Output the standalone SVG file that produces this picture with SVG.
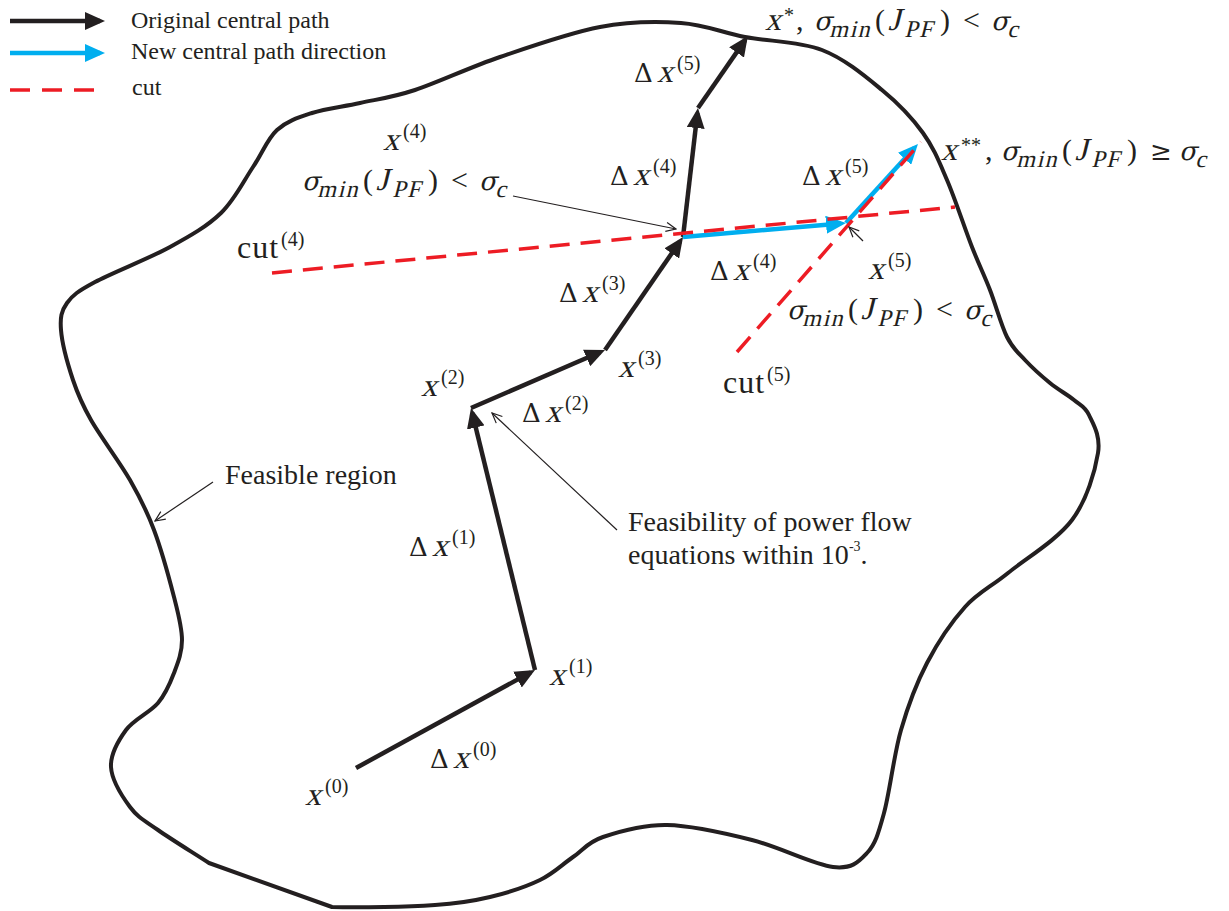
<svg xmlns="http://www.w3.org/2000/svg" width="1229" height="911" viewBox="0 0 1229 911">
<style>
text{font-family:"Liberation Serif","Times New Roman",serif;fill:#231f20}
.lg{font-size:24px}
.ann{font-size:28px}
.m{font-size:30px}
.it{font-size:32px}
.gr{font-family:"DejaVu Serif",serif;font-size:26px}
.g{font-family:"DejaVu Serif",serif;font-size:26px}
.ct{font-size:32px;letter-spacing:1px}
.sp{font-size:20px}
.sb{font-size:24px;letter-spacing:1.5px}
.blk{stroke:#231f20;stroke-width:4.5;fill:none}
.blu{stroke:#00aeef;stroke-width:4.5;fill:none}
.cut{stroke:#ed1c24;stroke-width:3.5;stroke-dasharray:20 11;fill:none}
.ldr{stroke:#231f20;stroke-width:1.2;fill:none}
.outline{stroke:#231f20;stroke-width:4;fill:none;stroke-linejoin:round}
</style>
<defs>
<marker id="ab" markerUnits="userSpaceOnUse" viewBox="0 0 20 18" refX="15" refY="9" markerWidth="20" markerHeight="18" orient="auto"><path d="M0,0 L20,9 L0,18 z" fill="#231f20"/></marker>
<marker id="abl" markerUnits="userSpaceOnUse" viewBox="0 0 20 18" refX="15" refY="9" markerWidth="20" markerHeight="18" orient="auto"><path d="M0,0 L20,9 L0,18 z" fill="#00aeef"/></marker>
<marker id="ao" markerUnits="userSpaceOnUse" viewBox="0 0 12 12" refX="11" refY="6" markerWidth="12" markerHeight="12" orient="auto"><path d="M1,1.5 L11,6 L1,10.5" fill="none" stroke="#231f20" stroke-width="1.2"/></marker>
</defs>
<rect width="1229" height="911" fill="#fff"/>

<g id="legend">
<line class="blk" x1="10" y1="21" x2="100" y2="21" marker-end="url(#ab)"/>
<line class="blu" x1="10" y1="53" x2="100" y2="53" marker-end="url(#abl)"/>
<line class="cut" x1="10" y1="90" x2="94" y2="90" style="stroke-dasharray:20 12"/>
<text class="lg" x="131" y="28">Original central path</text>
<text class="lg" x="131" y="59">New central path direction</text>
<text class="lg" x="132" y="95">cut</text>
</g>

<g id="region">
<path class="outline" d="M277,130 C286.8,121 298.2,117.5 312,113 C325.8,108.5 342.8,106.8 360,103 C377.2,99.2 391.7,97.7 415,90 C438.3,82.3 469.2,67.5 500,57 C530.8,46.5 569.8,32.7 600,27 C630.2,21.3 656.8,21.3 681,23 C705.2,24.7 721.5,32.5 745,37 C768.5,41.5 799.2,41.2 822,50 C844.8,58.8 865.2,76.2 882,90 C898.8,103.8 912.2,118 923,133 C933.8,148 938.8,161 947,180 C955.2,199 964.8,228.7 972,247 C979.2,265.3 984.2,275 990,290 C995.8,305 1001.2,325.3 1007,337 C1012.8,348.7 1017.8,352.3 1025,360 C1032.2,367.7 1041.8,376.3 1050,383 C1058.2,389.7 1067.5,394.7 1074,400 C1080.5,405.3 1085,406.2 1089,415 C1093,423.8 1100.8,435.5 1098,453 C1095.2,470.5 1087,500 1072,520 C1057,540 1025.8,558.5 1008,573 C990.2,587.5 978.5,592 965,607 C951.5,622 937.7,642.5 927,663 C916.3,683.5 908.2,705 901,730 C893.8,755 889.7,792.5 884,813 C878.3,833.5 875.5,844 867,853 C858.5,862 852.2,869.2 833,867 C813.8,864.8 779.7,847 752,840 C724.3,833 691.8,825.5 667,825 C642.2,824.5 618.7,831.7 603,837 C587.3,842.3 583.5,849.8 573,857 C562.5,864.2 553.8,873.3 540,880 C526.2,886.7 507.5,892.8 490,897 C472.5,901.2 461.3,903.3 435,905 C408.7,906.7 360,908 332,907 L209,863 C192,852 171.2,839.3 158,830 C144.8,820.7 137.8,817.5 130,807 C122.2,796.5 111.7,779.8 111,767 C110.3,754.2 118.2,740.7 126,730 C133.8,719.3 150,712.5 158,703 C166,693.5 170,683.5 174,673 C178,662.5 182,652.7 182,640 C182,627.3 178.7,615.3 174,597 C169.3,578.7 161.3,549.5 154,530 C146.7,510.5 140.5,498.3 130,480 C119.5,461.7 100.5,436.7 91,420 C81.5,403.3 78,395 73,380 C68,365 62,342.8 61,330 C60,317.2 61.3,311 67,303 C72.7,295 77.8,291.3 95,282 C112.2,272.7 149,258.5 170,247 C191,235.5 207.2,226.3 221,213 C234.8,199.7 243.7,180.8 253,167 C262.3,153.2 267.2,139 277,130 Z"/>
<text class="ann" x="225" y="484">Feasible region</text>
</g>

<g id="connectors">
<line class="blk" x1="356" y1="768" x2="530.6" y2="672.4" marker-end="url(#ab)"/>
<line class="blk" x1="535" y1="670" x2="472.2" y2="412.9" marker-end="url(#ab)"/>
<line class="blk" x1="471" y1="408" x2="600.4" y2="352" marker-end="url(#ab)"/>
<line class="blk" x1="605" y1="350" x2="680.2" y2="241.1" marker-end="url(#ab)"/>
<line class="blk" x1="683" y1="237" x2="697.4" y2="113" marker-end="url(#ab)"/>
<line class="blk" x1="698" y1="108" x2="745.1" y2="40.1" marker-end="url(#ab)"/>
<line class="blu" x1="683" y1="237" x2="841" y2="223.4" marker-end="url(#abl)"/>
<line class="blu" x1="846" y1="223" x2="914.6" y2="147.7" marker-end="url(#abl)"/>
<line class="cut" x1="272" y1="273" x2="955" y2="207"/>
<line class="cut" x1="737" y1="352" x2="921" y2="142"/>
<line class="ldr" x1="513" y1="196" x2="676" y2="229" marker-end="url(#ao)"/>
<line class="ldr" x1="863" y1="241" x2="849" y2="227" marker-end="url(#ao)"/>
<line class="ldr" x1="213" y1="482" x2="155" y2="521" marker-end="url(#ao)"/>
<line class="ldr" x1="617" y1="530" x2="492" y2="413" marker-end="url(#ao)"/>
</g>

<g id="x0"><text class="it" transform="translate(305 805) skewX(-14)">x</text><text class="sp" x="325" y="793">(0)</text></g>
<g id="dx0"><text class="g" x="430" y="768">Δ</text><text class="it" transform="translate(453 768) skewX(-14)">x</text><text class="sp" x="473" y="756">(0)</text></g>
<g id="x1"><text class="it" transform="translate(549 685) skewX(-14)">x</text><text class="sp" x="569" y="673">(1)</text></g>
<g id="dx1"><text class="g" x="409" y="556">Δ</text><text class="it" transform="translate(432 556) skewX(-14)">x</text><text class="sp" x="452" y="544">(1)</text></g>
<g id="x2"><text class="it" transform="translate(421 396) skewX(-14)">x</text><text class="sp" x="441" y="384">(2)</text></g>
<g id="dx2"><text class="g" x="522" y="422">Δ</text><text class="it" transform="translate(545 422) skewX(-14)">x</text><text class="sp" x="565" y="410">(2)</text></g>
<g id="x3"><text class="it" transform="translate(618 377) skewX(-14)">x</text><text class="sp" x="638" y="365">(3)</text></g>
<g id="dx3"><text class="g" x="559" y="302">Δ</text><text class="it" transform="translate(582 302) skewX(-14)">x</text><text class="sp" x="602" y="290">(3)</text></g>
<g id="cut4"><text class="ct" x="237" y="258">cut</text><text class="sp" x="281" y="246">(4)</text></g>
<g id="cut5"><text class="ct" x="723" y="393">cut</text><text class="sp" x="767" y="381">(5)</text></g>
<g id="x4">
<text class="it" transform="translate(383 150) skewX(-14)">x</text><text class="sp" x="403" y="138">(4)</text>
<text class="it" transform="translate(302 190) skewX(-14)"><tspan x="0" class="gr">σ</tspan><tspan x="17" dy="7" class="sb">min</tspan><tspan x="74" dy="-7">J</tspan><tspan x="92" dy="7" class="sb">PF</tspan><tspan x="177" dy="-7" class="gr">σ</tspan><tspan x="195" dy="7" class="sb">c</tspan></text>
<text class="m" y="190"><tspan x="363">(</tspan><tspan x="428">)</tspan><tspan x="451">&lt;</tspan></text>
</g>
<g id="dx4a"><text class="g" x="610" y="185">Δ</text><text class="it" transform="translate(633 185) skewX(-14)">x</text><text class="sp" x="653" y="173">(4)</text></g>
<g id="dx5a"><text class="g" x="634" y="82">Δ</text><text class="it" transform="translate(657 82) skewX(-14)">x</text><text class="sp" x="677" y="70">(5)</text></g>
<g id="dx4b"><text class="g" x="710" y="280">Δ</text><text class="it" transform="translate(733 280) skewX(-14)">x</text><text class="sp" x="753" y="268">(4)</text></g>
<g id="dx5b"><text class="g" x="802" y="185">Δ</text><text class="it" transform="translate(825 185) skewX(-14)">x</text><text class="sp" x="845" y="173">(5)</text></g>
<g id="x5">
<text class="it" transform="translate(868 279) skewX(-14)">x</text><text class="sp" x="888" y="267">(5)</text>
<text class="it" transform="translate(787 319) skewX(-14)"><tspan x="0" class="gr">σ</tspan><tspan x="17" dy="7" class="sb">min</tspan><tspan x="74" dy="-7">J</tspan><tspan x="92" dy="7" class="sb">PF</tspan><tspan x="177" dy="-7" class="gr">σ</tspan><tspan x="195" dy="7" class="sb">c</tspan></text>
<text class="m" y="319"><tspan x="848">(</tspan><tspan x="913">)</tspan><tspan x="936">&lt;</tspan></text>
</g>
<g id="xstar">
<text class="it" transform="translate(765 30) skewX(-14)">x</text><text class="sp" x="784" y="22">*</text>
<text class="it" transform="translate(814 30) skewX(-14)"><tspan x="0" class="gr">σ</tspan><tspan x="17" dy="7" class="sb">min</tspan><tspan x="74" dy="-7">J</tspan><tspan x="92" dy="7" class="sb">PF</tspan><tspan x="177" dy="-7" class="gr">σ</tspan><tspan x="195" dy="7" class="sb">c</tspan></text>
<text class="m" y="30"><tspan x="796">,</tspan><tspan x="875">(</tspan><tspan x="940">)</tspan><tspan x="963">&lt;</tspan></text>
</g>
<g id="xstarstar">
<text class="it" transform="translate(941 160) skewX(-14)">x</text><text class="sp" x="961" y="152">**</text>
<text class="it" transform="translate(1001 160) skewX(-14)"><tspan x="0" class="gr">σ</tspan><tspan x="17" dy="7" class="sb">min</tspan><tspan x="74" dy="-7">J</tspan><tspan x="92" dy="7" class="sb">PF</tspan><tspan x="178" dy="-7" class="gr">σ</tspan><tspan x="196" dy="7" class="sb">c</tspan></text>
<text class="m" y="160"><tspan x="985">,</tspan><tspan x="1062">(</tspan><tspan x="1127">)</tspan><tspan x="1150" class="g">≥</tspan></text>
</g>
<g id="note"><text class="ann" y="531"><tspan x="628">Feasibility of power flow</tspan><tspan x="628" y="564">equations within 10</tspan><tspan dy="-13" style="font-size:14px">-3</tspan><tspan dy="13">.</tspan></text></g>
</svg>
